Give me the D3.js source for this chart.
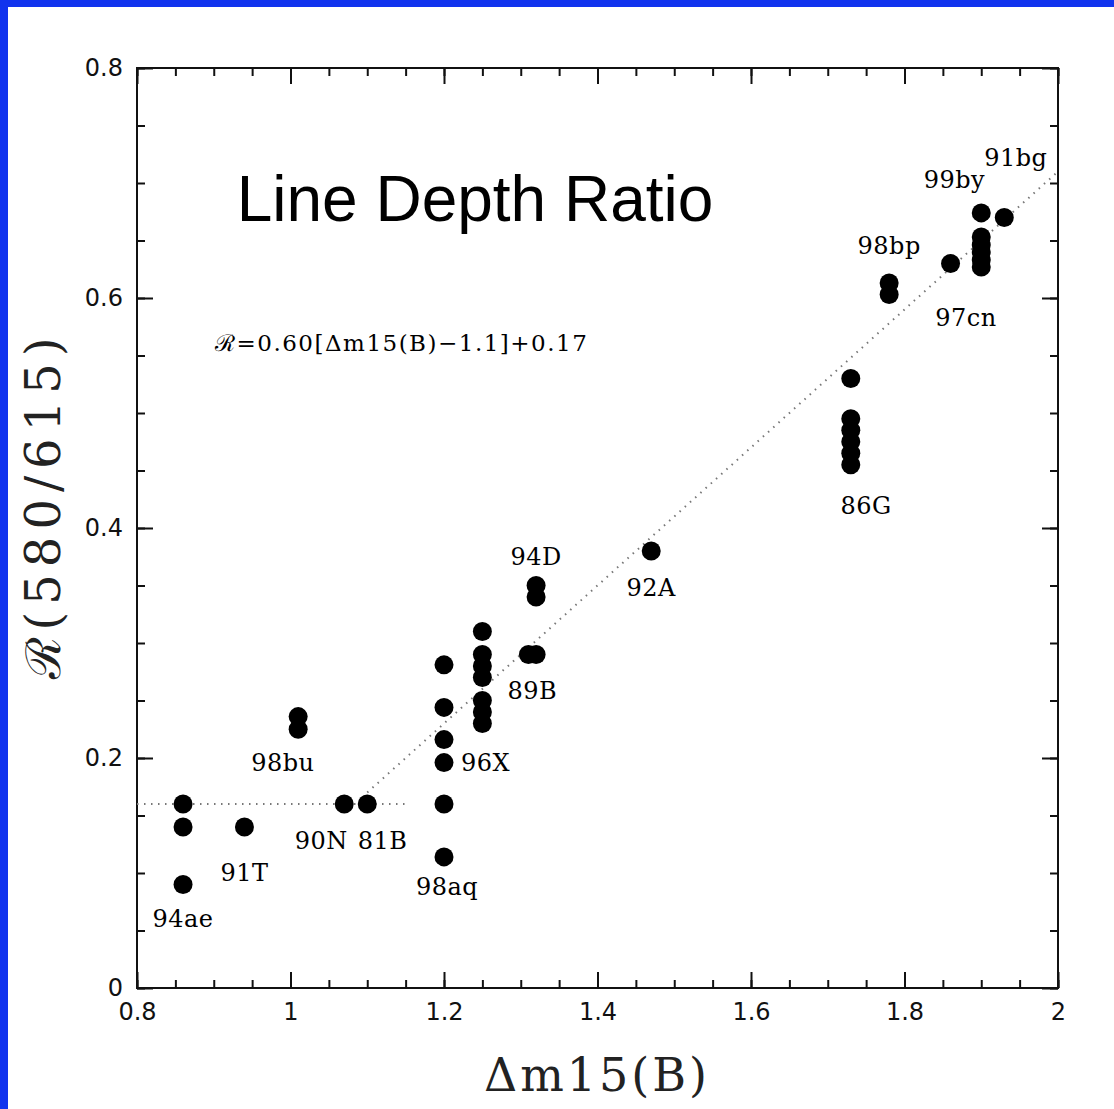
<!DOCTYPE html>
<html>
<head>
<meta charset="utf-8">
<script src="https://cdn.jsdelivr.net/npm/d3@7"></script>
<style>
  body { margin: 0; background: #fff; }
  svg { display: block; }
  .lab { font-family: "DejaVu Serif", serif; font-size: 24px; letter-spacing: 0.5px; fill: #000; }
  .axis .tick text { font-family: "DejaVu Sans", sans-serif; font-size: 24px; fill: #111; }
  .axis path, .axis line { stroke: #111; stroke-width: 2; }
</style>
</head>
<body>
<svg width="1114" height="1109"></svg>
<script>
// supernova line depth ratios, one entry per measurement
var dm15 = [0.86, 0.86, 0.86, 0.94, 1.01, 1.01, 1.07, 1.10,
            1.20, 1.20, 1.20, 1.20, 1.20, 1.20,
            1.25, 1.25, 1.25, 1.25, 1.25, 1.25, 1.25,
            1.31, 1.32, 1.32, 1.32, 1.47,
            1.73, 1.73, 1.73, 1.73, 1.73, 1.73,
            1.78, 1.78, 1.86, 1.90, 1.90, 1.90, 1.90, 1.90, 1.90, 1.93];
var ratio = [0.16, 0.14, 0.09, 0.14, 0.236, 0.225, 0.16, 0.16,
             0.281, 0.244, 0.216, 0.196, 0.16, 0.114,
             0.31, 0.29, 0.28, 0.27, 0.25, 0.24, 0.23,
             0.29, 0.29, 0.35, 0.34, 0.38,
             0.53, 0.495, 0.485, 0.475, 0.465, 0.455,
             0.613, 0.603, 0.63, 0.674, 0.653, 0.646, 0.64, 0.633, 0.627, 0.67];

// name labels and where they sit (data coords)
var snNames = ["94ae", "91T", "90N", "81B", "98bu", "96X", "98aq", "89B", "94D", "92A", "86G", "98bp", "97cn", "99by", "91bg"];
var snLabX  = [0.86, 0.94, 1.04, 1.12, 0.99, 1.254, 1.204, 1.315, 1.32, 1.47, 1.75, 1.78, 1.88, 1.865, 1.945];
var snLabY  = [0.06, 0.10, 0.128, 0.128, 0.196, 0.196, 0.088, 0.258, 0.375, 0.348, 0.419, 0.645, 0.583, 0.703, 0.722];

var xTicks = [0.8, 1, 1.2, 1.4, 1.6, 1.8, 2];
var yTicks = [0, 0.2, 0.4, 0.6, 0.8];

// fit: R = 0.60[dm15 - 1.1] + 0.17, flat 0.16 below
var fitX = [1.1, 2.0];
var fitY = [0.17, 0.71];
var flatX = [0.8, 1.153];
var flatY = [0.16, 0.16];

var svg = d3.select("svg");

// blue frame
svg.append("rect").attr("x", 0).attr("y", 0).attr("width", 1114).attr("height", 7).attr("fill", "#1133ee");
svg.append("rect").attr("x", 0).attr("y", 0).attr("width", 8).attr("height", 1109).attr("fill", "#1133ee");

var pLeft = 137, pRight = 1058, pTop = 68, pBottom = 988;
var x = d3.scaleLinear().domain([0.8, 2]).range([pLeft, pRight]);
var y = d3.scaleLinear().domain([0, 0.8]).range([pBottom, pTop]);

var minorX = d3.range(0.8, 2.001, 0.05).map(function (d) { return +d.toFixed(2); });
var minorY = d3.range(0, 0.801, 0.05).map(function (d) { return +d.toFixed(2); });

function addAxis(gen, tx, ty, vals, size, labels) {
    var g = svg.append("g").attr("class", "axis")
        .attr("transform", "translate(" + tx + "," + ty + ")")
        .call(gen.tickValues(vals).tickSize(size).tickPadding(-size + 10)
            .tickFormat(labels ? function (d) { return d3.format("~g")(d); } : ""));
    g.select(".domain").remove();
    g.attr("font-size", null);
    return g;
}

// bottom & top
addAxis(d3.axisBottom(x), 0, pBottom, minorX, -8, false);
addAxis(d3.axisBottom(x), 0, pBottom, xTicks, -16, true).selectAll("text").attr("y", 15).attr("dy", "0.72em");
addAxis(d3.axisTop(x), 0, pTop, minorX, -8, false);
addAxis(d3.axisTop(x), 0, pTop, xTicks, -16, false);
// left & right
addAxis(d3.axisLeft(y), pLeft, 0, minorY, -8, false);
addAxis(d3.axisLeft(y), pLeft, 0, yTicks, -16, true).selectAll("text").attr("x", -14);
addAxis(d3.axisRight(y), pRight, 0, minorY, -8, false);
addAxis(d3.axisRight(y), pRight, 0, yTicks, -16, false);

svg.append("rect").attr("x", pLeft).attr("y", pTop)
    .attr("width", pRight - pLeft).attr("height", pBottom - pTop)
    .attr("fill", "none").attr("stroke", "#111").attr("stroke-width", 2);

// dotted fit lines
var line = d3.line().x(function (d) { return x(d[0]); }).y(function (d) { return y(d[1]); });
svg.append("path").attr("d", line(d3.zip(fitX, fitY)))
    .attr("fill", "none").attr("stroke", "#777").attr("stroke-width", 2).attr("stroke-dasharray", "1.5,5.5");
svg.append("path").attr("d", line(d3.zip(flatX, flatY)))
    .attr("fill", "none").attr("stroke", "#777").attr("stroke-width", 2).attr("stroke-dasharray", "1.5,5.5");

// points
svg.selectAll(".pt").data(d3.zip(dm15, ratio)).enter().append("circle")
    .attr("class", "pt")
    .attr("cx", function (d) { return x(d[0]); })
    .attr("cy", function (d) { return y(d[1]); })
    .attr("r", 9.5).attr("fill", "#000");

// names
svg.selectAll(".name").data(snNames).enter().append("text")
    .attr("class", "lab")
    .attr("x", function (d, i) { return x(snLabX[i]); })
    .attr("y", function (d, i) { return y(snLabY[i]); })
    .attr("text-anchor", "middle")
    .attr("dominant-baseline", "central")
    .text(function (d) { return d; });

// title & formula
svg.append("text").attr("x", 475).attr("y", 221).attr("text-anchor", "middle")
    .style("font-family", "'Liberation Sans', Arial, sans-serif").style("font-size", "64px").attr("fill", "#000")
    .text("Line Depth Ratio");
svg.append("text").attr("class", "lab").attr("x", 215).attr("y", 351)
    .style("font-size", "23px").style("letter-spacing", "1.5px")
    .text("ℛ=0.60[Δm15(B)−1.1]+0.17");

// axis titles
svg.append("text").attr("x", 597).attr("y", 1091).attr("text-anchor", "middle")
    .style("font-family", "'DejaVu Serif', serif").style("font-size", "46px").style("letter-spacing", "3px").attr("fill", "#222")
    .text("Δm15(B)");
svg.append("text").attr("transform", "translate(60,505) rotate(-90)").attr("text-anchor", "middle")
    .style("font-family", "'DejaVu Serif', serif").style("font-size", "48px").style("letter-spacing", "7px").attr("fill", "#222")
    .text("ℛ(580/615)");
</script>
</body>
</html>
